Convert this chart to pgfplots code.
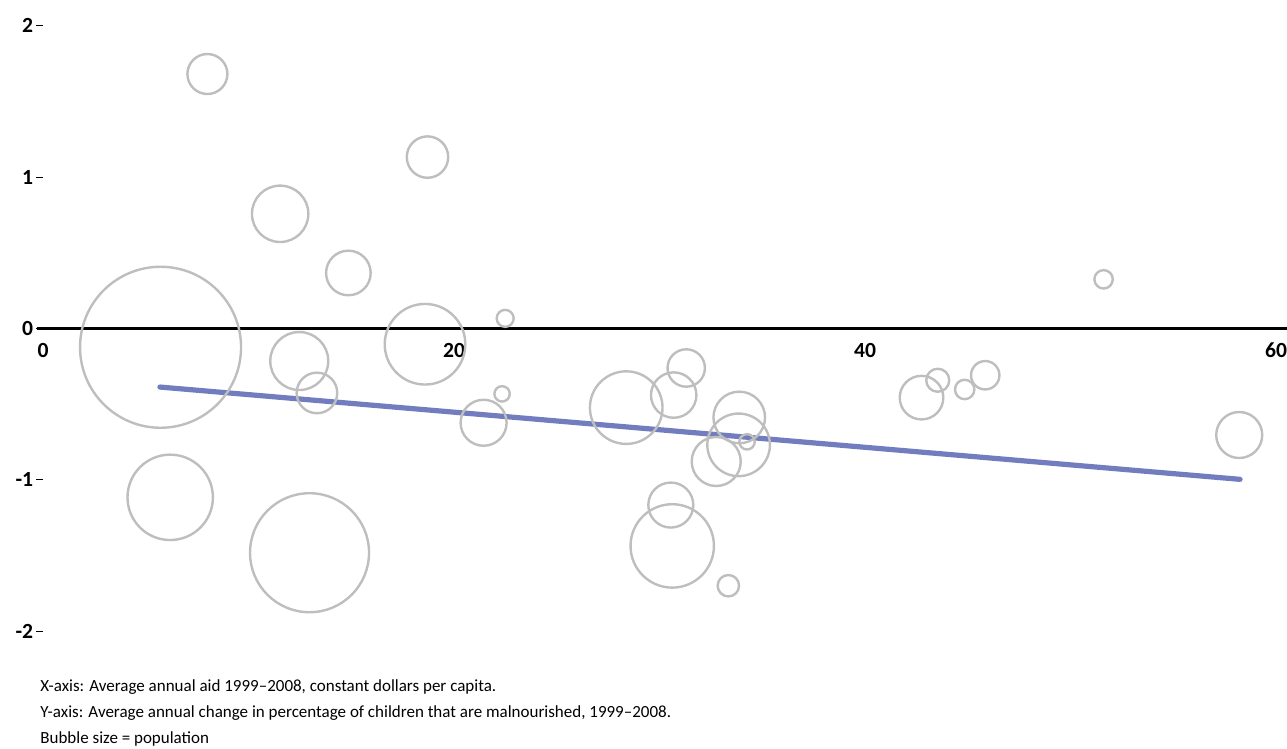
\documentclass[border=0pt]{standalone}
\usepackage{pgfplots}
\pgfplotsset{compat=1.18}
\usepackage{fontspec}
\setmainfont{Carlito}
\definecolor{bubble}{RGB}{190,190,190}
\definecolor{trend}{RGB}{113,125,191}
\begin{document}
\begin{tikzpicture}
\begin{axis}[
  scale only axis, width=616.5pt, height=302.6pt,
  xmin=0, xmax=60, ymin=-2, ymax=2,
  axis line style={draw=none},
  tick pos=left,
  xtick={0,20,40,60}, xticklabels={0,20,40,60},
  xtick style={draw=none},
  ytick={-2,-1,0,1,2}, yticklabels={-2,-1,0,1,2},
  ytick style={black, line width=0.5pt},
  tick align=outside, major tick length=3.5pt,
  ticklabel style={font=\bfseries\fontsize{10.8}{12}\selectfont},
  xticklabel style={anchor=north, yshift=151.1pt},
  yticklabel style={inner sep=1.2pt},
  clip=false,
]
\addplot[black, line width=1.15pt, forget plot] coordinates {(-0.27,0) (60.54,0)};
\addplot[scatter, only marks, mark=o, mark options={line width=1.2pt},
  scatter/use mapped color={draw=bubble},
  visualization depends on={\thisrow{r} \as \perpointmarksize},
  scatter/@pre marker code/.append style={/tikz/mark size=\perpointmarksize}]
  table[x=x, y=y] {
x y r
8.00 1.682 10.0
18.71 1.133 10.35
11.54 0.758 14.1
14.86 0.367 11.15
22.49 0.067 4.25
51.61 0.325 4.6
5.72 -0.124 40.25
12.47 -0.215 14.5
18.59 -0.104 20.15
13.33 -0.426 10.15
22.34 -0.432 3.85
21.44 -0.623 11.5
28.38 -0.523 18.15
31.30 -0.261 9.35
30.69 -0.44 11.35
33.88 -0.588 12.9
33.85 -0.769 15.65
34.26 -0.749 3.85
32.76 -0.879 12.25
30.55 -1.167 11.25
30.62 -1.437 20.85
33.35 -1.70 5.35
6.19 -1.116 21.35
12.97 -1.482 29.75
42.75 -0.457 10.9
43.54 -0.342 5.75
44.85 -0.403 4.85
45.85 -0.309 7.1
58.21 -0.704 11.5
};
\addplot[trend, line width=2.6pt, line cap=round] coordinates {(5.69,-0.387) (58.25,-0.997)};
\end{axis}
\begin{scope}[every node/.style={anchor=base west, inner sep=0pt, font=\fontsize{8.5}{10}\selectfont}]
\node at ([shift={(-1.5pt,-30.0pt)}]current axis.south west) {X-axis: Average annual aid 1999--2008, constant dollars per capita.};
\node at ([shift={(-1.5pt,-43.0pt)}]current axis.south west) {Y-axis: Average annual change in percentage of children that are malnourished, 1999--2008.};
\node at ([shift={(-1.5pt,-56.0pt)}]current axis.south west) {Bubble size = population};
\end{scope}
\pgfresetboundingbox
\path[use as bounding box] ([shift={(-21.5pt,-58.45pt)}]current axis.south west) rectangle ([shift={(5.5pt,12.95pt)}]current axis.north east);
\end{tikzpicture}
\end{document}
